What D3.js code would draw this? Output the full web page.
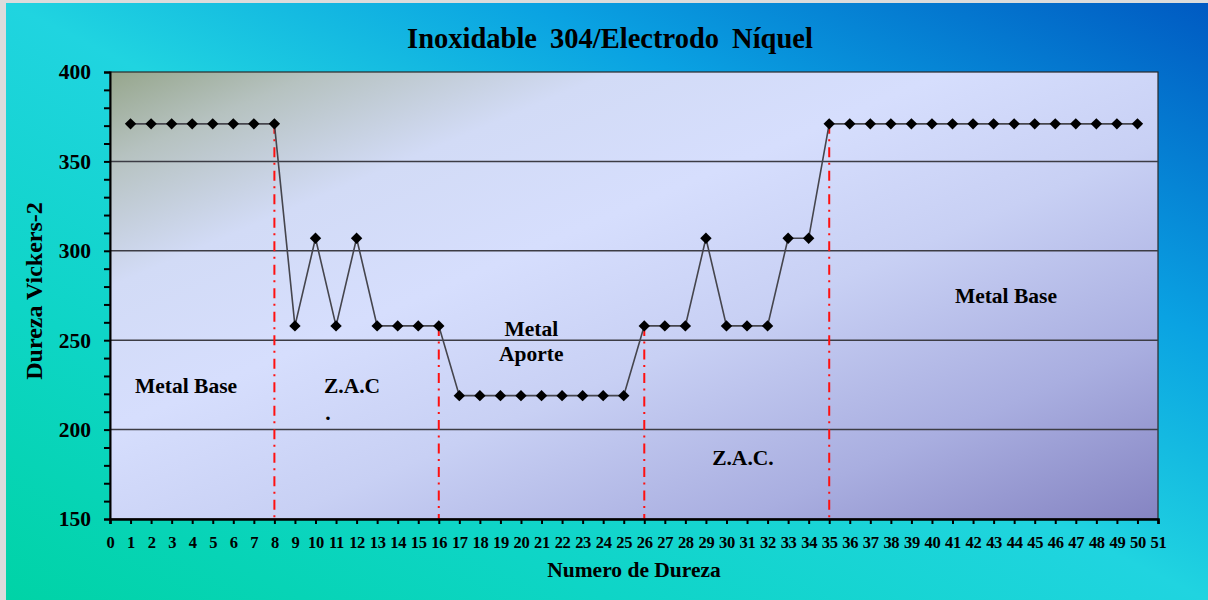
<!DOCTYPE html>
<html>
<head>
<meta charset="utf-8">
<script src="https://cdn.jsdelivr.net/npm/d3@7"></script>
<style>
  html, body { margin: 0; padding: 0; background: #dcdcdc; }
  svg { display: block; }
  text { font-family: "Liberation Serif", "Times New Roman", serif; font-weight: bold; fill: #000; }
</style>
</head>
<body>
<svg id="chart" width="1208" height="600"></svg>
<script>
// Hardness measurement points along the welded joint
const puntos = [1,2,3,4,5,6,7,8,9,10,11,12,13,14,15,16,17,18,19,20,21,22,23,24,25,
                26,27,28,29,30,31,32,33,34,35,36,37,38,39,40,41,42,43,44,45,46,47,48,49,50];
const dureza = [371,371,371,371,371,371,371,371,
                258,307,258,307,258,258,258,258,
                219,219,219,219,219,219,219,219,219,
                258,258,258,307,258,258,258,307,307,
                371,371,371,371,371,371,371,371,371,371,371,371,371,371,371,371];
// Zone boundaries (measurement point where each zone ends/starts)
const limites = [8, 16, 26, 35];
const yTicks = [150,160,170,180,190,200,210,220,230,240,250,260,270,280,290,300,310,320,330,340,350,360,370,380,390,400];
const yLabels = [150, 200, 250, 300, 350, 400];
const xTicks = [0,1,2,3,4,5,6,7,8,9,10,11,12,13,14,15,16,17,18,19,20,21,22,23,24,25,
                26,27,28,29,30,31,32,33,34,35,36,37,38,39,40,41,42,43,44,45,46,47,48,49,50,51];
const zonas = ["Metal Base", "Z.A.C", "Metal Aporte", "Z.A.C.", "Metal Base"];

const svg = d3.select("#chart");
const defs = svg.append("defs");

const bg = defs.append("linearGradient").attr("id", "bg")
  .attr("x1", 0).attr("y1", 1).attr("x2", 1).attr("y2", 0);
bg.append("stop").attr("offset", 0).attr("stop-color", "#00d3a6");
bg.append("stop").attr("offset", 0.25).attr("stop-color", "#0ed5c6");
bg.append("stop").attr("offset", 0.5).attr("stop-color", "#20d4e0");
bg.append("stop").attr("offset", 0.72).attr("stop-color", "#0aa2e2");
bg.append("stop").attr("offset", 1).attr("stop-color", "#005ac2");

const pg = defs.append("linearGradient").attr("id", "plotbg")
  .attr("x1", 0).attr("y1", 0).attr("x2", 1).attr("y2", 1);
pg.append("stop").attr("offset", 0).attr("stop-color", "#96a68c");
pg.append("stop").attr("offset", 0.1).attr("stop-color", "#b6c2c0");
pg.append("stop").attr("offset", 0.24).attr("stop-color", "#d2dbf6");
pg.append("stop").attr("offset", 0.4).attr("stop-color", "#d6defd");
pg.append("stop").attr("offset", 0.58).attr("stop-color", "#c8d0f4");
pg.append("stop").attr("offset", 0.8).attr("stop-color", "#a9aee0");
pg.append("stop").attr("offset", 1).attr("stop-color", "#8584c2");

// Chart background
svg.append("rect").attr("x", 6).attr("y", 3).attr("width", 1202).attr("height", 597)
  .attr("fill", "url(#bg)");

const x = d3.scaleLinear().domain([0, 51]).range([110, 1158]);
const y = d3.scaleLinear().domain([150, 400]).range([519, 72]);

// Plot area
svg.append("rect")
  .attr("x", x(0)).attr("y", y(400))
  .attr("width", x(51) - x(0)).attr("height", y(150) - y(400))
  .attr("fill", "url(#plotbg)")
  .attr("stroke", "#2a2a2a").attr("stroke-width", 1.2);

// Horizontal gridlines
svg.append("g").selectAll("line")
  .data(yLabels.filter(v => v > 150 && v < 400))
  .join("line")
  .attr("x1", x(0)).attr("x2", x(51))
  .attr("y1", d => y(d)).attr("y2", d => y(d))
  .attr("stroke", "#3c3c44").attr("stroke-width", 1.5);

// Zone boundaries
svg.append("g").selectAll("line")
  .data(limites)
  .join("line")
  .attr("x1", d => x(d)).attr("x2", d => x(d))
  .attr("y1", d => y(dureza[puntos.indexOf(d)]))
  .attr("y2", y(150))
  .attr("stroke", "#ff1010").attr("stroke-width", 2)
  .attr("stroke-dasharray", "10,5.5,2,6");

// Hardness profile
svg.append("path")
  .datum(puntos.map((p, i) => [p, dureza[i]]))
  .attr("fill", "none")
  .attr("stroke", "#45454d").attr("stroke-width", 1.6)
  .attr("d", d3.line().x(d => x(d[0])).y(d => y(d[1])));

svg.append("g").selectAll("path")
  .data(puntos.map((p, i) => [p, dureza[i]]))
  .join("path")
  .attr("transform", d => `translate(${x(d[0])},${y(d[1])})`)
  .attr("d", "M0,-5.7L5.7,0L0,5.7L-5.7,0Z")
  .attr("fill", "#000");

// Y axis
const yAxis = svg.append("g")
  .attr("transform", `translate(${x(0)},0)`)
  .call(d3.axisLeft(y).tickValues(yTicks)
    .tickFormat(d => yLabels.includes(d) ? d : "")
    .tickSize(6).tickPadding(13));
yAxis.select(".domain").attr("stroke", "#000").attr("stroke-width", 2);
yAxis.selectAll(".tick line").attr("stroke", "#000").attr("stroke-width", 2);
yAxis.selectAll(".tick text")
  .attr("font-size", 21.5).attr("fill", "#000");

// X axis
const xAxis = svg.append("g")
  .attr("transform", `translate(0,${y(150)})`)
  .call(d3.axisBottom(x).tickValues(xTicks).tickFormat(d3.format("d"))
    .tickSize(5).tickPadding(12));
xAxis.select(".domain").attr("stroke", "#000").attr("stroke-width", 2.5);
xAxis.selectAll(".tick line").attr("stroke", "#000").attr("stroke-width", 2);
xAxis.selectAll(".tick text")
  .attr("font-size", 16.5).style("letter-spacing", "-0.3px").attr("fill", "#000");

// Title and axis titles
svg.append("text")
  .attr("x", 610).attr("y", 48)
  .attr("text-anchor", "middle")
  .attr("font-size", 28.5).style("word-spacing", "6px")
  .text("Inoxidable 304/Electrodo Níquel");

svg.append("text")
  .attr("transform", "translate(42,291) rotate(-90)")
  .attr("text-anchor", "middle")
  .attr("font-size", 24)
  .text("Dureza Vickers-2");

svg.append("text")
  .attr("x", 634).attr("y", 577)
  .attr("text-anchor", "middle")
  .attr("font-size", 21.5)
  .text("Numero de Dureza");

// Zone labels
const zl = svg.append("g").attr("font-size", 21.5).attr("text-anchor", "middle");
zl.append("text").attr("x", x(3.7)).attr("y", y(220.5)).text(zonas[0]);
zl.append("text").attr("x", x(11.78)).attr("y", y(220.5)).text(zonas[1]);
zl.append("text").attr("x", x(10.6)).attr("y", y(205.6)).text(".");
const aporte = zonas[2].split(" ");
zl.append("text").attr("x", x(20.5)).attr("y", y(252.3)).text(aporte[0]);
zl.append("text").attr("x", x(20.5)).attr("y", y(238.4)).text(aporte[1]);
zl.append("text").attr("x", x(30.8)).attr("y", y(180.2)).text(zonas[3]);
zl.append("text").attr("x", x(43.6)).attr("y", y(270.8)).text(zonas[4]);
</script>
</body>
</html>
